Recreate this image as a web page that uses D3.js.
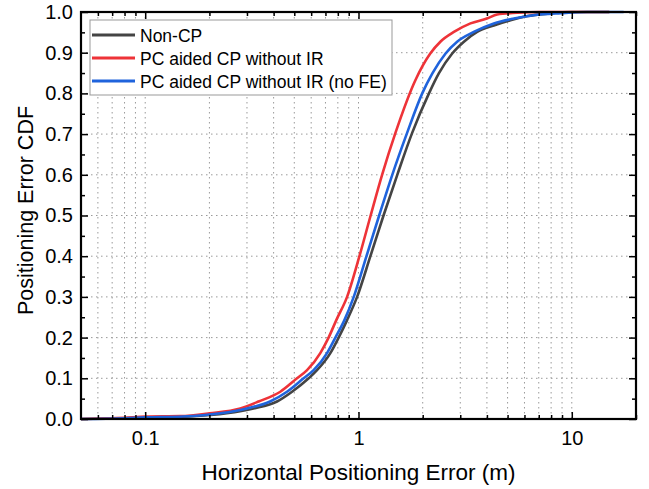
<!DOCTYPE html>
<html>
<head>
<meta charset="utf-8">
<script src="https://cdn.jsdelivr.net/npm/d3@7"></script>
<style>
  body { margin: 0; background: #fff; }
  text { font-family: "Liberation Sans", Arial, sans-serif; fill: #000; }
</style>
</head>
<body>
<div id="chart"></div>
<script>
// series names and colours
var seriesNames = ["Non-CP", "PC aided CP without IR", "PC aided CP without IR (no FE)"];
var seriesColors = ["#444444", "#ee3338", "#1f63dc"];

// Non-CP
var nonCpX = [0.05, 0.08, 0.1, 0.16, 0.241, 0.322, 0.415, 0.488, 0.584, 0.639, 0.738, 0.807, 0.884, 0.985, 1.137, 1.31, 1.52, 1.785, 2.14, 2.38, 2.75, 3.12, 3.6, 4.31, 5.16, 6.2, 7.7, 10, 15];
var nonCpP = [0, 0.002, 0.003, 0.006, 0.014, 0.026, 0.043, 0.067, 0.1, 0.12, 0.162, 0.2, 0.243, 0.3, 0.4, 0.5, 0.6, 0.703, 0.8, 0.849, 0.898, 0.927, 0.951, 0.967, 0.98, 0.99, 0.996, 1.0, 1.0];

// PC aided CP without IR
var pcX = [0.05, 0.08, 0.1, 0.146, 0.2, 0.279, 0.34, 0.43, 0.515, 0.574, 0.662, 0.724, 0.787, 0.884, 1.01, 1.14, 1.29, 1.49, 1.85, 2.17, 2.42, 2.8, 3.35, 4.0, 4.47, 5.55, 7.0, 15];
var pcP = [0, 0.003, 0.006, 0.007, 0.014, 0.026, 0.043, 0.067, 0.1, 0.12, 0.162, 0.2, 0.243, 0.3, 0.4, 0.5, 0.6, 0.703, 0.833, 0.898, 0.927, 0.951, 0.972, 0.984, 0.994, 0.998, 1.0, 1.0];

// PC aided CP without IR (no FE)
var pcNoFeX = [0.05, 0.08, 0.1, 0.15, 0.225, 0.3, 0.385, 0.462, 0.553, 0.616, 0.712, 0.779, 0.859, 0.95, 1.09, 1.25, 1.44, 1.69, 1.99, 2.22, 2.56, 2.9, 3.47, 4.31, 5.35, 6.62, 8.87, 11.8, 17.5];
var pcNoFeP = [0, 0.002, 0.004, 0.006, 0.014, 0.026, 0.043, 0.067, 0.1, 0.12, 0.162, 0.2, 0.243, 0.3, 0.4, 0.5, 0.6, 0.703, 0.8, 0.849, 0.898, 0.927, 0.951, 0.972, 0.984, 0.992, 0.997, 1.0, 1.0];

// axis ticks
var xMajor = [0.1, 1, 10];
var xMajorLabels = ["0.1", "1", "10"];
var xMinor = [0.06, 0.07, 0.08, 0.09, 0.2, 0.3, 0.4, 0.5, 0.6, 0.7, 0.8, 0.9, 2, 3, 4, 5, 6, 7, 8, 9, 20];
var yMajor = [0, 0.1, 0.2, 0.3, 0.4, 0.5, 0.6, 0.7, 0.8, 0.9, 1.0];
var yMinor = [0.05, 0.15, 0.25, 0.35, 0.45, 0.55, 0.65, 0.75, 0.85, 0.95];

var seriesX = [nonCpX, pcX, pcNoFeX];
var seriesP = [nonCpP, pcP, pcNoFeP];

// size
var margin = { top: 12, right: 13, bottom: 70, left: 81 },
  width = 649 - margin.left - margin.right,
  height = 489 - margin.top - margin.bottom;

var svg = d3
  .select("#chart")
  .append("svg")
  .attr("width", 649)
  .attr("height", 489)
  .append("g")
  .attr("transform", "translate(" + margin.left + "," + margin.top + ")");

var x = d3.scaleLog().domain([0.05, 20]).range([0, width]);
var y = d3.scaleLinear().domain([0, 1]).range([height, 0]);

// grid
svg
  .append("g")
  .selectAll("line")
  .data(xMajor.concat(xMinor))
  .enter()
  .append("line")
  .attr("x1", (d) => x(d))
  .attr("x2", (d) => x(d))
  .attr("y1", 0)
  .attr("y2", height)
  .attr("stroke", "#9a9a9a")
  .attr("stroke-width", 1)
  .attr("stroke-dasharray", "1.5,3.5");

svg
  .append("g")
  .selectAll("line")
  .data(yMajor.slice(1, -1))
  .enter()
  .append("line")
  .attr("x1", 0)
  .attr("x2", width)
  .attr("y1", (d) => y(d))
  .attr("y2", (d) => y(d))
  .attr("stroke", "#9a9a9a")
  .attr("stroke-width", 1)
  .attr("stroke-dasharray", "1.5,3.5");

// curves
var line = d3
  .line()
  .x((d) => x(d[0]))
  .y((d) => y(d[1]))
  .curve(d3.curveMonotoneX);

seriesNames.forEach(function (name, i) {
  var pts = seriesX[i].map((v, j) => [v, seriesP[i][j]]);
  svg
    .append("path")
    .datum(pts)
    .attr("fill", "none")
    .attr("stroke", seriesColors[i])
    .attr("stroke-width", 2.6)
    .attr("stroke-linejoin", "round")
    .attr("d", line);
});

// axes (ticks point inward)
function styleAxis(g) {
  g.select(".domain").remove();
  g.selectAll(".tick line").attr("stroke", "#000").attr("stroke-width", 1.5);
  g.selectAll(".tick text").style("font-size", "20px");
}

svg
  .append("g")
  .attr("transform", "translate(0," + height + ")")
  .call(d3.axisBottom(x).tickValues(xMajor).tickFormat((d, i) => xMajorLabels[i]).tickSize(-7).tickPadding(12))
  .call(styleAxis);
svg
  .append("g")
  .attr("transform", "translate(0," + height + ")")
  .call(d3.axisBottom(x).tickValues(xMinor).tickFormat("").tickSize(-4))
  .call(styleAxis);
svg
  .append("g")
  .call(d3.axisTop(x).tickValues(xMajor).tickFormat("").tickSize(-7))
  .call(styleAxis);
svg
  .append("g")
  .call(d3.axisTop(x).tickValues(xMinor).tickFormat("").tickSize(-4))
  .call(styleAxis);

svg
  .append("g")
  .call(d3.axisLeft(y).tickValues(yMajor).tickFormat(d3.format(".1f")).tickSize(-7).tickPadding(8))
  .call(styleAxis);
svg
  .append("g")
  .call(d3.axisLeft(y).tickValues(yMinor).tickFormat("").tickSize(-4))
  .call(styleAxis);
svg
  .append("g")
  .attr("transform", "translate(" + width + ",0)")
  .call(d3.axisRight(y).tickValues(yMajor).tickFormat("").tickSize(-7))
  .call(styleAxis);
svg
  .append("g")
  .attr("transform", "translate(" + width + ",0)")
  .call(d3.axisRight(y).tickValues(yMinor).tickFormat("").tickSize(-4))
  .call(styleAxis);

// frame
svg
  .append("rect")
  .attr("x", 0)
  .attr("y", 0)
  .attr("width", width)
  .attr("height", height)
  .attr("fill", "none")
  .attr("stroke", "#000")
  .attr("stroke-width", 2.2);

// axis titles
svg
  .append("text")
  .attr("x", x(1))
  .attr("y", height + 61)
  .attr("text-anchor", "middle")
  .style("font-size", "22.5px")
  .text("Horizontal Positioning Error (m)");

svg
  .append("text")
  .attr("transform", "rotate(-90)")
  .attr("x", -(height / 2) + 5)
  .attr("y", -48)
  .attr("text-anchor", "middle")
  .style("font-size", "21.5px")
  .text("Positioning Error CDF");

// legend
var legend = svg.append("g").attr("transform", "translate(9,8)");
legend
  .append("rect")
  .attr("width", 302)
  .attr("height", 75)
  .attr("fill", "#fff")
  .attr("stroke", "#999")
  .attr("stroke-width", 1);

seriesNames.forEach(function (name, i) {
  var ly = 15 + i * 23;
  legend
    .append("line")
    .attr("x1", 2)
    .attr("x2", 45)
    .attr("y1", ly)
    .attr("y2", ly)
    .attr("stroke", seriesColors[i])
    .attr("stroke-width", 3);
  legend
    .append("text")
    .attr("x", 50)
    .attr("y", ly + 6.5)
    .style("font-size", "17.5px")
    .text(name);
});
</script>
</body>
</html>
